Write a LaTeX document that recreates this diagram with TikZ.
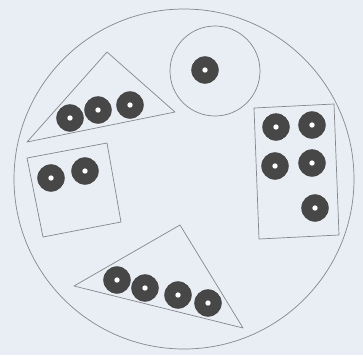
\documentclass[tikz,border=0pt]{standalone}
\usepackage{tikz}

\definecolor{paper}{HTML}{E9EEF4}
\definecolor{pencil}{HTML}{85878C}
\definecolor{coinfill}{HTML}{474747}

\tikzset{
  outline/.style={draw=pencil, line width=0.6pt, line join=round},
  coin/.style={circle, draw=black!75, fill=coinfill, line width=0.5pt,
               minimum size=0.8cm, inner sep=0pt,
               path picture={\fill[white]
                 (path picture bounding box.center) circle (0.08cm);}}
}

\begin{document}
\begin{tikzpicture}[x=0.03cm, y=-0.03cm]
  % paper
  \fill[paper] (0,0) rectangle (363,355);
  \useasboundingbox (0,0) rectangle (363,355);

  % Large plate
  \draw[outline] (184,179) circle (170);

  % Small circle with one coin
  \draw[outline] (215,71) circle (45);
  \node[coin] (one1) at (205,70) {};

  % Upper left triangle, three coins
  \draw[outline] (27,142) -- (107,52) -- (175,112) -- cycle;
  \node[coin] (three1) at (70,118) {};
  \node[coin] (three2) at (98,110) {};
  \node[coin] (three3) at (130,105) {};

  % Tilted square, two coins
  \draw[outline] (27,158) -- (107,143) -- (121,222) -- (43,237) -- cycle;
  \node[coin] (two1) at (51,178) {};
  \node[coin] (two2) at (85,171) {};

  % Right rectangle, five coins
  \draw[outline] (254,108) -- (334,104) -- (339,235) -- (259,239) -- cycle;
  \node[coin] (five1) at (276,127) {};
  \node[coin] (five2) at (312,125) {};
  \node[coin] (five3) at (275,166) {};
  \node[coin] (five4) at (312,163) {};
  \node[coin] (five5) at (315,208) {};

  % Bottom triangle, four coins
  \draw[outline] (74,286) -- (180,225) -- (243,328) -- cycle;
  \node[coin] (four1) at (117,280) {};
  \node[coin] (four2) at (145,288) {};
  \node[coin] (four3) at (178,295) {};
  \node[coin] (four4) at (208,303) {};
\end{tikzpicture}
\end{document}
